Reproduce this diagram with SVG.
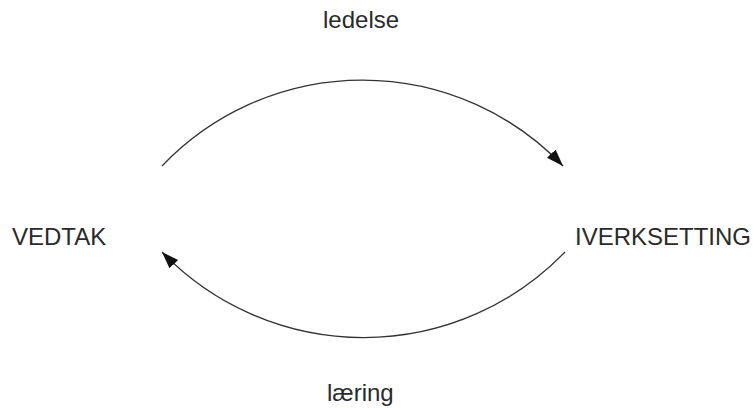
<svg xmlns="http://www.w3.org/2000/svg" width="753" height="408" viewBox="0 0 753 408">
<style>
text{font-family:"Liberation Sans",Arial,sans-serif;font-size:24px;fill:#2a2a2a}
.c{fill:none;stroke:#333;stroke-width:1.3}
</style>
<defs>
<marker id="ah" markerUnits="userSpaceOnUse" markerWidth="20" markerHeight="14" refX="17" refY="6" orient="auto">
<path d="M0,0 L17,6 L0,12 Z" fill="#111"/>
</marker>
</defs>
<rect width="753" height="408" fill="#fff"/>
<g id="vedtak"><text x="12" y="245">VEDTAK</text></g>
<g id="iverksetting"><text x="575" y="245">IVERKSETTING</text></g>
<g id="connectors">
<path class="c" d="M162,166 A277,277 0 0 1 563,166" marker-end="url(#ah)"/>
<text x="323" y="28">ledelse</text>
<path class="c" d="M565,252 A280,280 0 0 1 162,252" marker-end="url(#ah)"/>
<text x="327" y="401">læring</text>
</g>
</svg>
